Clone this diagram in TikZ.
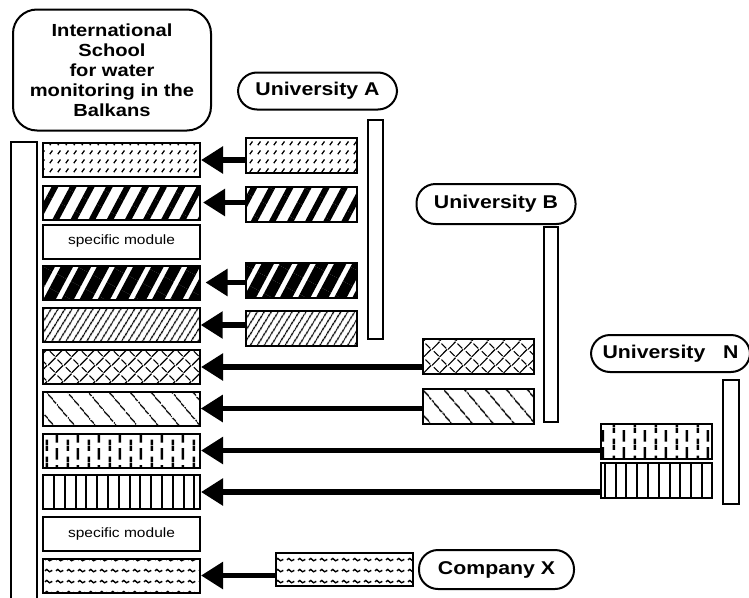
\documentclass[tikz,border=0pt]{standalone}
\usepackage{fontspec}
\setmainfont{Liberation Sans}
\newfontfamily\lblfont[FakeStretch=1.15]{Liberation Sans}
\usetikzlibrary{arrows.meta,patterns.meta}

\tikzdeclarepattern{
  name=fleckpat,
  type=uncolored,
  bounding box={(0pt,0pt) and (8pt,9pt)},
  tile size={(8pt,9pt)},
  code={\draw[line width=1.4pt] (2pt,2pt) -- (5pt,6pt);}
}
\tikzdeclarepattern{
  name=weavepat,
  type=uncolored,
  bounding box={(0pt,0pt) and (16pt,16pt)},
  tile size={(16pt,16pt)},
  code={
    \draw[line width=1.2pt] (0pt,8pt) -- (8pt,16pt);
    \draw[line width=1.2pt] (8pt,0pt) -- (16pt,8pt);
    \draw[line width=1.2pt] (2pt,6pt) -- (7pt,1pt);
    \draw[line width=1.2pt] (10pt,14pt) -- (15pt,9pt);
  }
}
\tikzdeclarepattern{
  name=brickpat,
  type=uncolored,
  bounding box={(0pt,0pt) and (21pt,17pt)},
  tile size={(21pt,17pt)},
  code={
    \draw[line width=2.5pt] (5pt,0pt) -- (5pt,5.5pt);
    \draw[line width=2.5pt] (5pt,11.5pt) -- (5pt,17pt);
    \draw[line width=2.5pt] (15.5pt,2.5pt) -- (15.5pt,14.5pt);
  }
}
\tikzdeclarepattern{
  name=wavepat,
  type=uncolored,
  bounding box={(0pt,0pt) and (11pt,11pt)},
  tile size={(11pt,11pt)},
  code={\draw[line width=1.5pt] (1pt,5.5pt) -- (3pt,7pt) -- (6pt,4.5pt) -- (9pt,6pt);}
}

\tikzset{
  fleck/.style={pattern=fleckpat},
  widestripe/.style={pattern={Lines[angle=62,distance=16pt,line width=6pt]}},
  darkstripe/.style={pattern={Lines[angle=62,distance=16pt,line width=11pt]}},
  finestripe/.style={pattern={Lines[angle=58,distance=6.4pt,line width=1.4pt]}},
  weave/.style={pattern=weavepat},
  backstripe/.style={pattern={Lines[angle=-50,distance=17pt,line width=1.5pt]}},
  bricks/.style={pattern=brickpat},
  vbars/.style={pattern={Lines[angle=90,distance=10.8pt,line width=2pt]}},
  waves/.style={pattern=wavepat}
}

\begin{document}
\begin{tikzpicture}[x=1pt, y=-1pt, line width=2pt,
  module/.style={draw, minimum width=157pt, minimum height=34pt, inner sep=0pt,
    font=\lblfont\fontsize{13.5}{16}\selectfont},
  offer/.style={draw, minimum width=111pt, minimum height=35pt, inner sep=0pt},
  partner/.style={draw, rounded corners=19pt, minimum width=159pt, minimum height=37pt,
    inner sep=0pt, font=\lblfont\bfseries\fontsize{18.5}{20}\selectfont},
  feed/.style={line width=5.5pt, -{Triangle[length=22pt,width=26pt]}}]

\useasboundingbox (0,0) rectangle (749,597);

\node[draw, rounded corners=24pt, minimum width=198pt, minimum height=121pt, inner sep=0pt,
  align=center, font=\lblfont\bfseries\fontsize{17.5}{20}\selectfont] (school) at (112,70)
  {International\\School\\for water\\monitoring in the\\Balkans};

\begin{scope}
\draw (11,142) rectangle (37,620);
\draw (368,120) rectangle (383,339);
\draw (544,227) rectangle (558,422);
\draw (723,380) rectangle (739,504);
\end{scope}

% modules of the school
\node[module, fleck] (m1) at (121.5,160) {};
\node[module, widestripe] (m2) at (121.5,202.5) {};
\node[module] (m3) at (121.5,241.5) {specific module};
\node[module, darkstripe] (m4) at (121.5,282.5) {};
\node[module, finestripe] (m5) at (121.5,325) {};
\node[module, weave] (m6) at (121.5,367) {};
\node[module, backstripe] (m7) at (121.5,408.5) {};
\node[module, bricks] (m8) at (121.5,450.5) {};
\node[module, vbars] (m9) at (121.5,492) {};
\node[module] (m10) at (121.5,534) {specific module};
\node[module, waves] (m11) at (121.5,575.5) {};

\node[partner] (uniA) at (317.5,91) {University A};
\node[offer, fleck] (ua1) at (301.5,155) {};
\node[offer, widestripe] (ua2) at (301.5,204.5) {};
\node[offer, darkstripe] (ua3) at (301.5,280) {};
\node[offer, finestripe] (ua4) at (301.5,328.5) {};

\node[partner, minimum height=40pt] (uniB) at (496,204) {University B};
\node[offer, weave] (ub1) at (478,356) {};
\node[offer, backstripe] (ub2) at (478,406) {};

\node[partner] (uniN) at (670.5,353.5) {University~~~N};
\node[offer, bricks] (un1) at (656.5,441) {};
\node[offer, vbars] (un2) at (656.5,480.5) {};

\node[partner, minimum width=155pt, minimum height=39pt] (compX) at (496.5,569.5) {Company X};
\node[offer, waves, minimum width=137pt, minimum height=33pt] (cx1) at (344.5,569.5) {};

\foreach \s/\t in {ua1/m1, ua2/m2, ua3/m4, ua4/m5, ub1/m6, ub2/m7, un1/m8, un2/m9, cx1/m11}
\draw[feed] (\t.east -| \s.west) -- (\t.east);

\end{tikzpicture}
\end{document}
